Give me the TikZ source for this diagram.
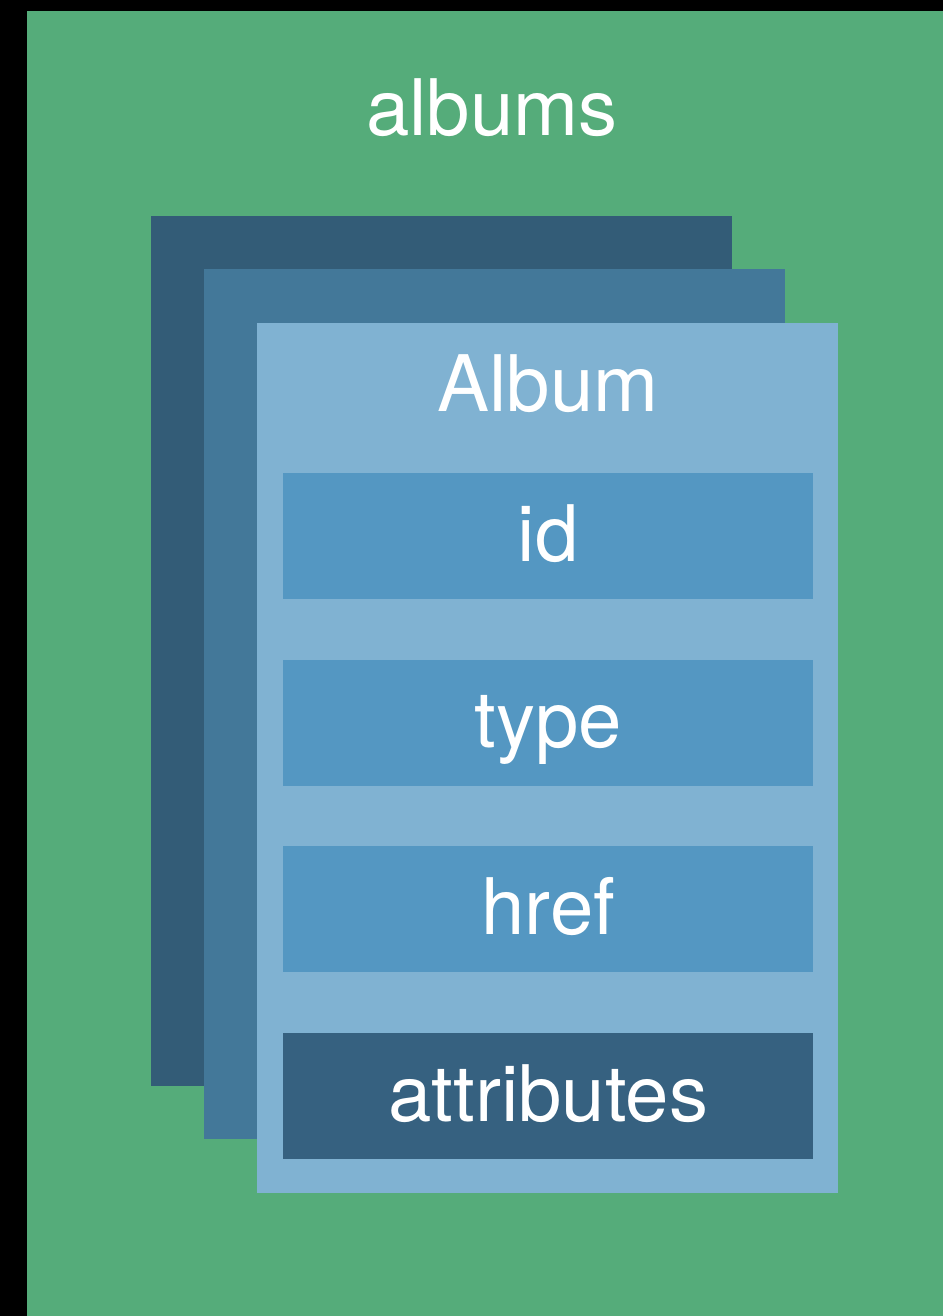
\documentclass[tikz,border=0pt]{standalone}
\usepackage{fontspec}
\setmainfont{TeX Gyre Heros}
\definecolor{bggreen}{HTML}{55AC7A}
\definecolor{cardback}{HTML}{335C77}
\definecolor{cardmid}{HTML}{437899}
\definecolor{cardfront}{HTML}{80B2D2}
\definecolor{fieldblue}{HTML}{5497C2}
\definecolor{fielddark}{HTML}{366180}
\tikzset{
  card/.style={anchor=north west, inner sep=0pt, minimum width=581pt, minimum height=870pt},
  field/.style={anchor=north west, inner sep=0pt, minimum width=530pt, minimum height=126pt,
    text height=50pt, text depth=0pt, text=white, font=\fontsize{78}{90}\selectfont},
  title/.style={anchor=base, inner sep=0pt, text=white, font=\fontsize{78}{90}\selectfont}
}
\begin{document}
\begin{tikzpicture}[x=1pt,y=-1pt]
\fill[black] (0,0) rectangle (943,1316);
\useasboundingbox (0,0) rectangle (943,1316);
\fill[bggreen] (27,11) rectangle (943,1316);
\node[title] (albums) at (492,136) {albums};
\node[card, fill=cardback] (back) at (151,216) {};
\node[card, fill=cardmid] (mid) at (204,269) {};
\node[card, fill=cardfront] (front) at (257,323) {};
\node[title] (album) at (548,411) {Album};
\node[field, fill=fieldblue] (id) at (283,473) {id};
\node[field, fill=fieldblue] (type) at (283,659.5) {type};
\node[field, fill=fieldblue] (href) at (283,846) {href};
\node[field, fill=fielddark] (attributes) at (283,1033) {attributes};
\end{tikzpicture}
\end{document}
